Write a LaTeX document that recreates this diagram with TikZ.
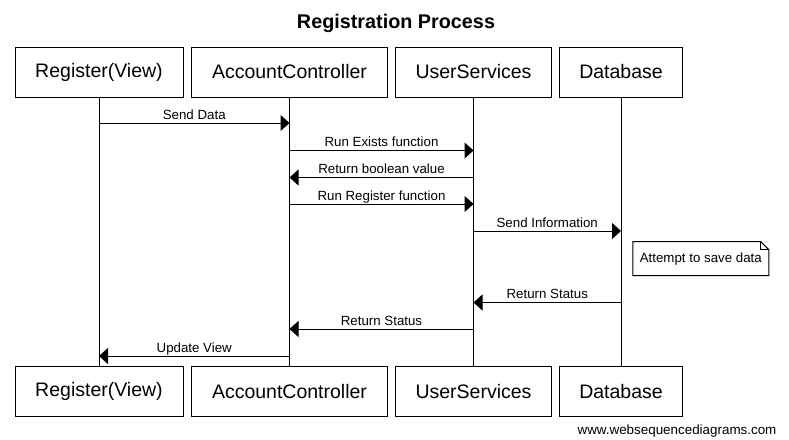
\documentclass[tikz,border=0pt]{standalone}
\usepackage{fontspec}
\setmainfont{Liberation Sans}
\usetikzlibrary{arrows.meta}

\begin{document}
\begin{tikzpicture}[x=1pt, y=-1pt, line width=1pt,
  actor/.style={draw, rectangle, minimum height=50pt, inner sep=0pt, font=\fontsize{19.5}{23}\selectfont},
  msg/.style={-{Triangle[length=9pt,width=16pt]}},
  lbl/.style={anchor=base, yshift=4pt, inner sep=0pt, font=\fontsize{13.3}{15}\selectfont}]

\useasboundingbox (0,0) rectangle (789,439);

% Draw the title
\node[font=\bfseries\fontsize{19.8}{23}\selectfont] (title) at (396,23) {Registration Process};

% Draw the participants (top)
\node[actor, minimum width=168pt] (rvT) at (99,72) {Register(View)};
\node[actor, minimum width=196pt] (acT) at (289.5,72) {AccountController};
\node[actor, minimum width=156pt] (usT) at (473.5,72) {UserServices};
\node[actor, minimum width=123pt] (dbT) at (621,72) {Database};

% Draw the participants (bottom)
\node[actor, minimum width=168pt] (rvB) at (99,391.5) {Register(View)};
\node[actor, minimum width=196pt] (acB) at (289.5,391.5) {AccountController};
\node[actor, minimum width=156pt] (usB) at (473.5,391.5) {UserServices};
\node[actor, minimum width=123pt] (dbB) at (621,391.5) {Database};

% Draw the lifelines
\draw (rvT) -- (rvB);
\draw (acT) -- (acB);
\draw (usT) -- (usB);
\draw (dbT) -- (dbB);

% message rows
\coordinate (m1) at (0,123);
\coordinate (m2) at (0,150.5);
\coordinate (m3) at (0,177.5);
\coordinate (m4) at (0,204);
\coordinate (m5) at (0,231);
\coordinate (m6) at (0,302.5);
\coordinate (m7) at (0,329);
\coordinate (m8) at (0,356);

% Draw the messages
\draw[msg] (rvT |- m1) -- (acT |- m1) node[lbl, midway] {Send Data};
\draw[msg] (acT |- m2) -- (usT |- m2) node[lbl, midway] {Run Exists function};
\draw[msg] (usT |- m3) -- (acT |- m3) node[lbl, midway] {Return boolean value};
\draw[msg] (acT |- m4) -- (usT |- m4) node[lbl, midway] {Run Register function};
\draw[msg] (usT |- m5) -- (dbT |- m5) node[lbl, midway] {Send Information};
\draw[msg] (dbT |- m6) -- (usT |- m6) node[lbl, midway] {Return Status};
\draw[msg] (usT |- m7) -- (acT |- m7) node[lbl, midway] {Return Status};
\draw[msg] (acT |- m8) -- (rvT |- m8) node[lbl, midway] {Update View};

% Draw the note
\node[minimum width=135pt, minimum height=33pt, inner sep=0pt, font=\fontsize{13.3}{15}\selectfont] (note) at (700.8,258.7) {Attempt to save data};
\draw (note.south west) -- (note.north west) -- ([xshift=-8pt]note.north east) -- ([yshift=-8pt]note.north east) -- (note.south east) -- cycle;
\draw ([xshift=-8pt]note.north east) |- ([yshift=-8pt]note.north east);

% watermark
\node[font=\fontsize{13.4}{15}\selectfont] (wsd) at (677,431) {www.websequencediagrams.com};

\end{tikzpicture}
\end{document}
